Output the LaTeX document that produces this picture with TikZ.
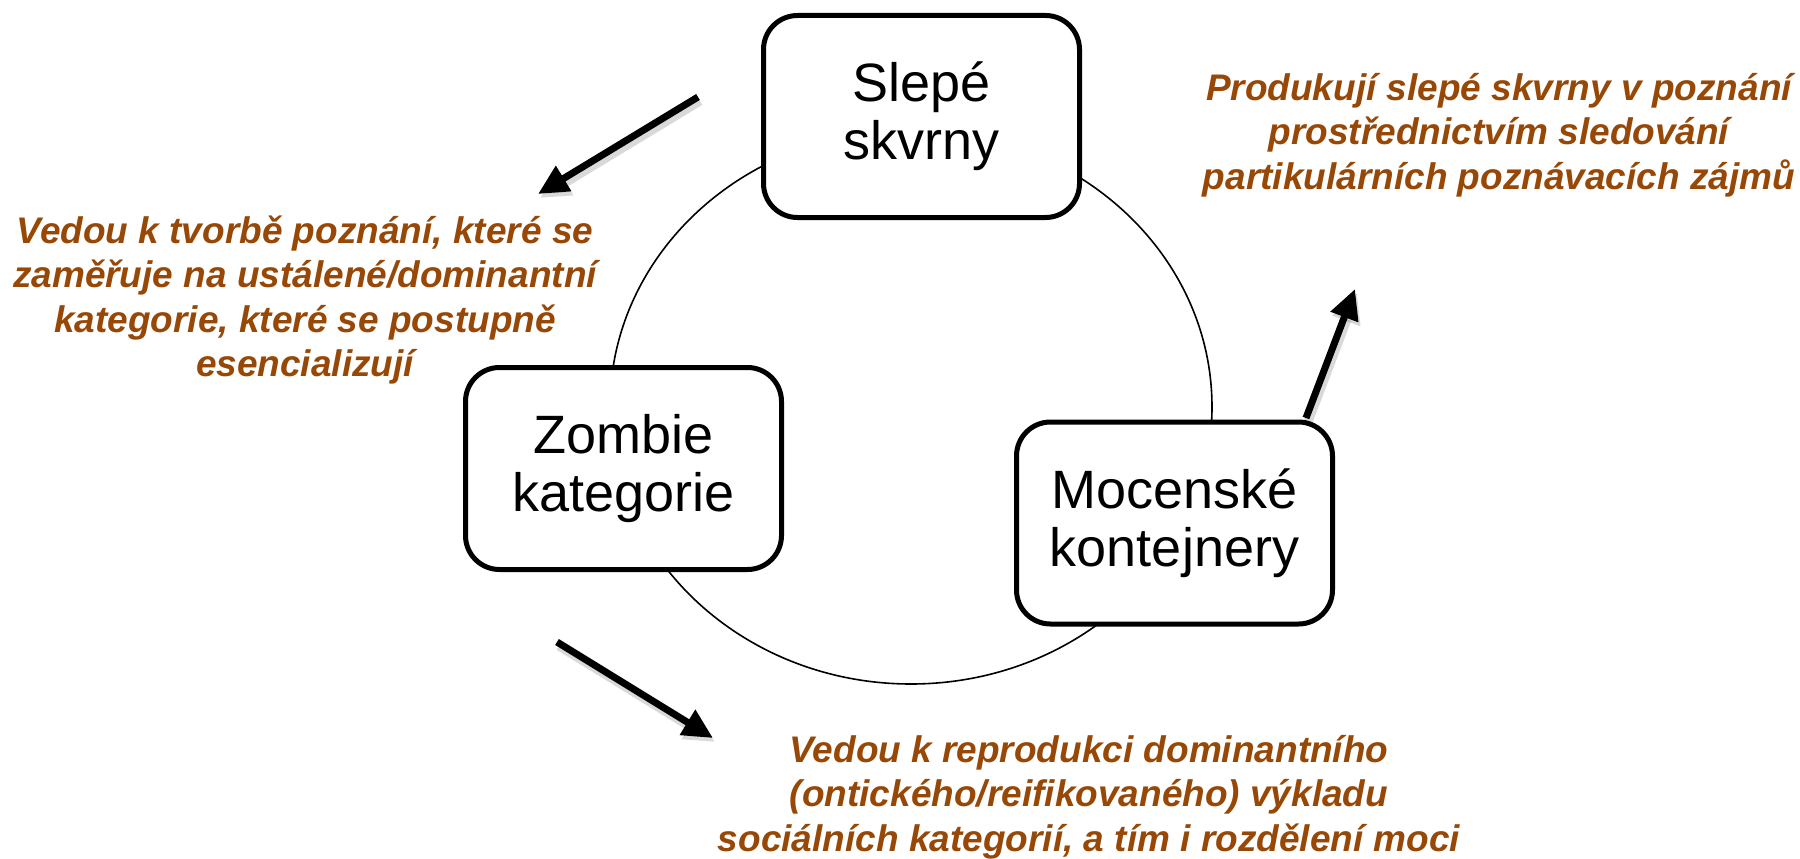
\documentclass[tikz,border=0pt]{standalone}
\usepackage{fontspec}
\setmainfont{Liberation Sans}
\usetikzlibrary{arrows.meta}
\definecolor{brownt}{HTML}{974806}
\begin{document}
\begin{tikzpicture}[x=1pt,y=-1pt,
  box/.style={draw=black, line width=5pt, rounded corners=34pt, fill=white,
    minimum width=316pt, minimum height=202pt, align=center, inner sep=0pt,
    font=\fontsize{54}{58}\selectfont},
  note/.style={text=brownt, align=center, inner sep=0pt,
    font=\fontsize{37}{44.5}\selectfont\bfseries\itshape},
  bigarrow/.style={line width=7pt, -{Triangle[length=30pt,width=28pt]},
    preaction={draw=black, opacity=0.15, line width=9pt,
      transform canvas={shift={(2pt,-4pt)}}}},
  ring/.style={line width=1.6pt}]
\useasboundingbox (0,0) rectangle (1800,859);
% ring
\draw[ring] (911,407) ellipse [x radius=301, y radius=277];
% boxes
\node[box] (slepe) at (921.5,116.5) {Slepé\\skvrny};
\node[box] (zombie) at (623.5,468.5) {Zombie\\kategorie};
\node[box] (moc) at (1174.5,523) {Mocenské\\kontejnery};
% notes
\node[note] (n1) at (305,300) {Vedou k tvorbě poznání, které se\\zaměřuje na ustálené/dominantní\\kategorie, které se postupně\\esencializují};
\node[note] (n2) at (1499,135) {Produkují slepé skvrny v poznání\\prostřednictvím sledování\\partikulárních poznávacích zájmů};
\node[note] (n3) at (1089,797) {Vedou k reprodukci dominantního\\(ontického/reifikovaného) výkladu\\sociálních kategorií, a tím i rozdělení moci};
% arrows
\coordinate (a1s) at (698,97);
\coordinate (a1e) at (538,194);
\coordinate (a2s) at (1306,418);
\coordinate (a2e) at (1355,289);
\coordinate (a3s) at (557,642);
\coordinate (a3e) at (713,738);
\draw[bigarrow] (a1s) -- (a1e);
\draw[bigarrow] (a2s) -- (a2e);
\draw[bigarrow] (a3s) -- (a3e);
\end{tikzpicture}
\end{document}
